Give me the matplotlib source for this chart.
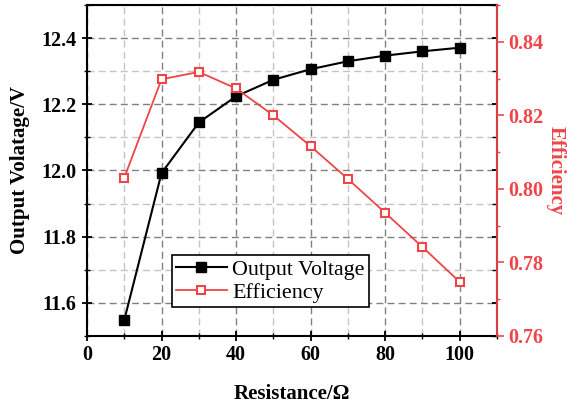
import matplotlib
matplotlib.use("Agg")
import matplotlib.pyplot as plt
from matplotlib.ticker import MultipleLocator, FormatStrFormatter
from matplotlib.lines import Line2D

resistance = [10, 20, 30, 40, 50, 60, 70, 80, 90, 100]
output_voltage = [11.548, 11.992, 12.145, 12.224, 12.274, 12.306, 12.330, 12.347, 12.360, 12.371]
efficiency = [0.803, 0.8298, 0.8318, 0.8273, 0.8200, 0.8116, 0.8027, 0.7935, 0.7842, 0.7747]

RED = "#F04548"
plt.rcParams["font.family"] = ["Liberation Serif", "DejaVu Serif"]

fig = plt.figure(figsize=(5.67, 4.09), dpi=100)
ax1 = fig.add_axes([0.1534, 0.1785, 0.7231, 0.8093])
ax3 = ax1.twinx()   # mirrored inward ticks of the voltage scale on the right frame
ax2 = ax1.twinx()   # efficiency scale

# grid on the primary axis: darker at major ticks, lighter at minor ticks
ax1.set_xlim(0, 110)
ax1.set_ylim(11.5, 12.5)
ax1.xaxis.set_major_locator(MultipleLocator(20))
ax1.xaxis.set_minor_locator(MultipleLocator(10))
ax1.yaxis.set_major_locator(MultipleLocator(0.2))
ax1.yaxis.set_minor_locator(MultipleLocator(0.1))
ax1.yaxis.set_major_formatter(FormatStrFormatter("%.1f"))
ax1.grid(which="major", color="#808080", linestyle=(0, (5, 3)), linewidth=1.0)
ax1.grid(which="minor", color="#c4c4c4", linestyle=(0, (5, 3)), linewidth=1.0)
ax1.set_axisbelow(True)

ax1.plot(resistance, output_voltage, color="black", linewidth=1.5,
         marker="s", markersize=7, markerfacecolor="black", markeredgecolor="black",
         zorder=3)

ax3.set_ylim(ax1.get_ylim())
ax3.yaxis.set_major_locator(MultipleLocator(0.2))
ax3.yaxis.set_minor_locator(MultipleLocator(0.1))
ax3.tick_params(axis="y", which="major", direction="in", length=3.5, width=1.3,
                labelright=False, color="black")
ax3.tick_params(axis="y", which="minor", direction="in", length=3.5, width=1.0,
                color="black")
for sp in ax3.spines.values():
    sp.set_visible(False)

ax2.set_ylim(0.76, 0.85)
ax2.yaxis.set_major_locator(MultipleLocator(0.02))
ax2.yaxis.set_minor_locator(MultipleLocator(0.01))
ax2.yaxis.set_major_formatter(FormatStrFormatter("%.2f"))
ax2.plot(resistance, efficiency, color=RED, linewidth=1.3,
         marker="s", markersize=6, markerfacecolor="white", markeredgecolor=RED,
         markeredgewidth=1.5, zorder=3)

for sp in ax1.spines.values():
    sp.set_linewidth(1.5)
ax2.spines["right"].set_color(RED)
ax2.spines["right"].set_linewidth(1.3)
for name in ("left", "top", "bottom"):
    ax2.spines[name].set_visible(False)

ax1.tick_params(axis="both", which="major", direction="inout", length=7, width=1.3,
                labelsize=14.5, pad=4)
ax1.tick_params(axis="both", which="minor", direction="inout", length=5, width=1.0)
ax1.tick_params(axis="x", pad=3)
ax2.tick_params(axis="y", which="major", direction="out", length=5, width=1.2,
                colors=RED, labelsize=14.5, pad=3)
ax2.tick_params(axis="y", which="minor", direction="out", length=2.5, width=1.0,
                colors=RED)
for lab in ax1.get_xticklabels() + ax1.get_yticklabels():
    lab.set_fontweight("bold")
for lab in ax2.get_yticklabels():
    lab.set_fontweight("bold")

ax1.set_xlabel("Resistance/Ω", fontsize=15, fontweight="bold", labelpad=14)
ax1.set_ylabel("Output Volatage/V", fontsize=15, fontweight="bold", labelpad=8)
ax2.set_ylabel("Efficiency", fontsize=15, fontweight="bold", color=RED,
               rotation=270, labelpad=16)

handles = [
    Line2D([], [], color="black", linewidth=1.5, marker="s", markersize=7,
           markerfacecolor="black"),
    Line2D([], [], color=RED, linewidth=1.3, marker="s", markersize=6,
           markerfacecolor="white", markeredgecolor=RED, markeredgewidth=1.5),
]
leg = ax2.legend(handles, ["Output Voltage", "Efficiency"], loc="upper left",
                 bbox_to_anchor=(0.2066, 0.2447), borderaxespad=0, fancybox=False,
                 framealpha=1, edgecolor="black", fontsize=15.8, handlelength=2.3,
                 handletextpad=0.25, borderpad=0.2, labelspacing=0.12)
leg.get_frame().set_linewidth(1.2)

fig.savefig("out.png", dpi=100)
